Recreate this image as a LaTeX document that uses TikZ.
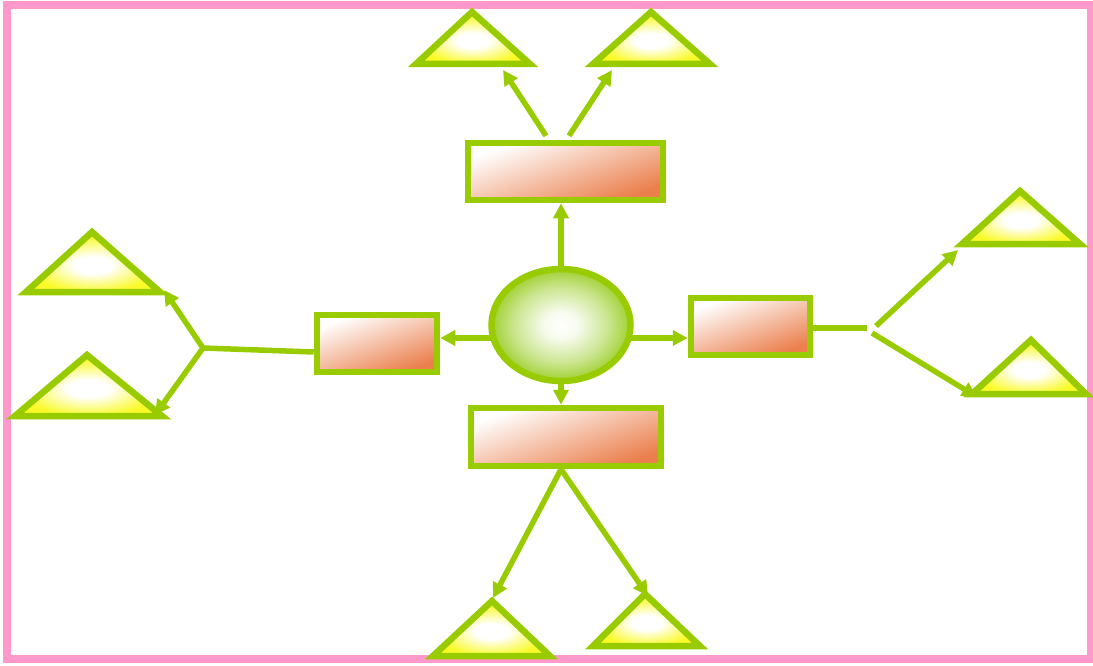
\documentclass[tikz,border=0pt]{standalone}
\usetikzlibrary{arrows.meta,shapes.geometric,calc,backgrounds}
\definecolor{lgreen}{RGB}{153,204,0}
\definecolor{pinkb}{RGB}{255,153,204}
\definecolor{orng}{RGB}{235,128,78}
\definecolor{ylw}{RGB}{250,250,40}
\definecolor{egreen}{RGB}{160,208,50}
\pgfdeclareradialshading{hubshade}{\pgfpoint{0bp}{0bp}}{color(0bp)=(white); color(6bp)=(white!92!egreen); color(17bp)=(white!45!egreen); color(25bp)=(egreen); color(50bp)=(egreen)}
\pgfdeclareradialshading{trishade}{\pgfpoint{0bp}{-3bp}}{color(0bp)=(white); color(7bp)=(white); color(17bp)=(white!40!ylw); color(24bp)=(ylw); color(50bp)=(ylw)}
\pgfdeclarehorizontalshading{boxshade}{100bp}{color(0bp)=(white); color(26bp)=(white); color(50bp)=(orng!50!white); color(74bp)=(orng); color(100bp)=(orng)}
\tikzset{
  box/.style={rectangle, draw=lgreen, line width=6.5pt, inner sep=0pt,
    shading=boxshade, shading angle=-70},
  hub/.style={ellipse, draw=lgreen, line width=6.5pt, inner sep=0pt,
    shading=hubshade},
  tri/.style={draw=lgreen, line width=6.5pt, line join=miter,
    shading=trishade},
  conn/.style={draw=lgreen, line width=5.5pt},
  arr/.style={conn, -{Triangle[length=15pt,width=15pt]}},
}
\begin{document}
\begin{tikzpicture}[x=1pt,y=-1pt]
\useasboundingbox (0,0) rectangle (1093,666);
\draw[pinkb, line width=8pt] (7,5) rectangle (1091,659);

% triangles
\draw[tri] (416,64) -- (472,12) -- (530,64) -- cycle;
\draw[tri] (593,64) -- (651,12) -- (710,64) -- cycle;
\draw[tri] (962,244) -- (1020,191) -- (1080,244) -- cycle;
\draw[tri] (972,394) -- (1031,340) -- (1086,394) -- cycle;
\draw[tri] (26,292) -- (92,232) -- (160,292) -- cycle;
\draw[tri] (15,416) -- (87,355) -- (162,416) -- cycle;
\draw[tri] (433,656) -- (492,601) -- (550,656) -- cycle;
\draw[tri] (593,646) -- (645,594) -- (700,646) -- cycle;

% target points on triangles
\coordinate (t1) at (503,70);
\coordinate (t2) at (612,70);
\coordinate (t3) at (958,250);
\coordinate (t4) at (977,397);
\coordinate (t5) at (164,290);
\coordinate (t6) at (155,415);
\coordinate (t7) at (493,598);
\coordinate (t8) at (648,596);
\coordinate (jL) at (203,348);
\coordinate (jR) at (867,328);
\coordinate (jR1) at (876,326);
\coordinate (jR2) at (872,333);

% nodes
\node[box, minimum width=195pt, minimum height=57pt] (R1) at (565.5,171.5) {};
\node[box, minimum width=190pt, minimum height=58pt] (R2) at (566,437) {};
\node[box, minimum width=120pt, minimum height=57pt] (R3) at (377,343.5) {};
\node[box, minimum width=119pt, minimum height=57pt] (R4) at (750.5,326.5) {};
\node[hub, minimum width=139pt, minimum height=112pt] (E) at (561,325) {};

\begin{scope}[on background layer]
\draw[arr] (E.center) -- (E.center |- R1.south);
\draw[arr] (E.center) -- (E.center |- R2.north);
\draw[arr] ([yshift=-13pt]E.center) -- ([yshift=-13pt]E.center -| R3.east);
\draw[arr] ([yshift=-13pt]E.center) -- ([yshift=-13pt]E.center -| R4.west);
\end{scope}

\draw[arr] ([xshift=-19.5pt,yshift=4pt]R1.north) -- (t1);
\draw[arr] ([xshift=3.5pt,yshift=4pt]R1.north) -- (t2);
\draw[arr] ([xshift=-5pt]R2.south) -- (t7);
\draw[arr] ([xshift=-5pt]R2.south) -- (t8);
\draw[conn] ([yshift=-8.5pt]R3.west) -- (jL);
\draw[arr] (jL) -- (t5);
\draw[arr] (jL) -- (t6);
\draw[conn] ([yshift=-1.5pt]R4.east) -- (jR);
\draw[arr] (jR1) -- (t3);
\draw[arr] (jR2) -- (t4);
\end{tikzpicture}
\end{document}
